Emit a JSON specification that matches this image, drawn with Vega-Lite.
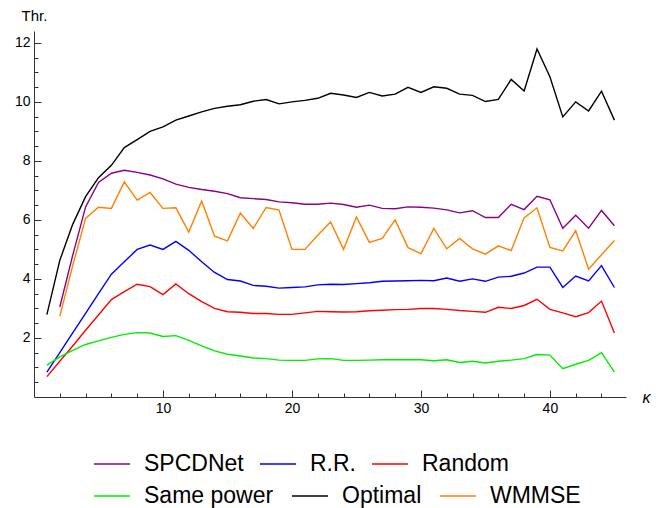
{
  "$schema": "https://vega.github.io/schema/vega-lite/v6.json",
  "width": 592,
  "height": 366,
  "autosize": {"type": "none"},
  "padding": {"left": 34, "top": 31, "right": 36, "bottom": 111},
  "background": "white",
  "config": {
    "view": {"stroke": null},
    "font": "Liberation Sans",
    "axis": {"grid": false, "domainColor": "#333", "tickColor": "#333", "labelColor": "#000", "titleColor": "#000", "labelFont": "Liberation Sans", "titleFont": "Liberation Sans", "labelFontSize": 14, "titleFontSize": 15, "titleFontWeight": "normal", "domainWidth": 1, "tickWidth": 1},
    "legend": {"orient": "none", "direction": "horizontal", "title": null, "symbolType": "stroke", "symbolSize": 1296, "symbolStrokeWidth": 1.3, "labelFontSize": 23, "labelFont": "Liberation Sans", "labelColor": "#000", "labelOffset": 13, "padding": 0, "labelLimit": 300}
  },
  "data": {"values": [
    {"kappa":1,"method":"Optimal","thr":2.79},{"kappa":2,"method":"Optimal","thr":4.63},{"kappa":3,"method":"Optimal","thr":5.85},{"kappa":4,"method":"Optimal","thr":6.79},{"kappa":5,"method":"Optimal","thr":7.43},{"kappa":6,"method":"Optimal","thr":7.85},{"kappa":7,"method":"Optimal","thr":8.45},{"kappa":8,"method":"Optimal","thr":8.72},{"kappa":9,"method":"Optimal","thr":9.0},{"kappa":10,"method":"Optimal","thr":9.15},{"kappa":11,"method":"Optimal","thr":9.38},{"kappa":12,"method":"Optimal","thr":9.52},{"kappa":13,"method":"Optimal","thr":9.66},{"kappa":14,"method":"Optimal","thr":9.78},{"kappa":15,"method":"Optimal","thr":9.85},{"kappa":16,"method":"Optimal","thr":9.9},{"kappa":17,"method":"Optimal","thr":10.02},{"kappa":18,"method":"Optimal","thr":10.08},{"kappa":19,"method":"Optimal","thr":9.93},{"kappa":20,"method":"Optimal","thr":10.0},{"kappa":21,"method":"Optimal","thr":10.05},{"kappa":22,"method":"Optimal","thr":10.12},{"kappa":23,"method":"Optimal","thr":10.29},{"kappa":24,"method":"Optimal","thr":10.23},{"kappa":25,"method":"Optimal","thr":10.15},{"kappa":26,"method":"Optimal","thr":10.32},{"kappa":27,"method":"Optimal","thr":10.2},{"kappa":28,"method":"Optimal","thr":10.26},{"kappa":29,"method":"Optimal","thr":10.49},{"kappa":30,"method":"Optimal","thr":10.32},{"kappa":31,"method":"Optimal","thr":10.51},{"kappa":32,"method":"Optimal","thr":10.46},{"kappa":33,"method":"Optimal","thr":10.26},{"kappa":34,"method":"Optimal","thr":10.22},{"kappa":35,"method":"Optimal","thr":10.01},{"kappa":36,"method":"Optimal","thr":10.08},{"kappa":37,"method":"Optimal","thr":10.76},{"kappa":38,"method":"Optimal","thr":10.37},{"kappa":39,"method":"Optimal","thr":11.79},{"kappa":40,"method":"Optimal","thr":10.85},{"kappa":41,"method":"Optimal","thr":9.49},{"kappa":42,"method":"Optimal","thr":10.0},{"kappa":43,"method":"Optimal","thr":9.69},{"kappa":44,"method":"Optimal","thr":10.36},{"kappa":45,"method":"Optimal","thr":9.38},
    {"kappa":2,"method":"SPCDNet","thr":3.05},{"kappa":3,"method":"SPCDNet","thr":4.8},{"kappa":4,"method":"SPCDNet","thr":6.44},{"kappa":5,"method":"SPCDNet","thr":7.27},{"kappa":6,"method":"SPCDNet","thr":7.58},{"kappa":7,"method":"SPCDNet","thr":7.68},{"kappa":8,"method":"SPCDNet","thr":7.61},{"kappa":9,"method":"SPCDNet","thr":7.52},{"kappa":10,"method":"SPCDNet","thr":7.39},{"kappa":11,"method":"SPCDNet","thr":7.21},{"kappa":12,"method":"SPCDNet","thr":7.1},{"kappa":13,"method":"SPCDNet","thr":7.03},{"kappa":14,"method":"SPCDNet","thr":6.97},{"kappa":15,"method":"SPCDNet","thr":6.89},{"kappa":16,"method":"SPCDNet","thr":6.75},{"kappa":17,"method":"SPCDNet","thr":6.72},{"kappa":18,"method":"SPCDNet","thr":6.69},{"kappa":19,"method":"SPCDNet","thr":6.61},{"kappa":20,"method":"SPCDNet","thr":6.58},{"kappa":21,"method":"SPCDNet","thr":6.53},{"kappa":22,"method":"SPCDNet","thr":6.53},{"kappa":23,"method":"SPCDNet","thr":6.57},{"kappa":24,"method":"SPCDNet","thr":6.52},{"kappa":25,"method":"SPCDNet","thr":6.43},{"kappa":26,"method":"SPCDNet","thr":6.5},{"kappa":27,"method":"SPCDNet","thr":6.39},{"kappa":28,"method":"SPCDNet","thr":6.38},{"kappa":29,"method":"SPCDNet","thr":6.44},{"kappa":30,"method":"SPCDNet","thr":6.43},{"kappa":31,"method":"SPCDNet","thr":6.4},{"kappa":32,"method":"SPCDNet","thr":6.34},{"kappa":33,"method":"SPCDNet","thr":6.24},{"kappa":34,"method":"SPCDNet","thr":6.31},{"kappa":35,"method":"SPCDNet","thr":6.08},{"kappa":36,"method":"SPCDNet","thr":6.08},{"kappa":37,"method":"SPCDNet","thr":6.53},{"kappa":38,"method":"SPCDNet","thr":6.35},{"kappa":39,"method":"SPCDNet","thr":6.8},{"kappa":40,"method":"SPCDNet","thr":6.68},{"kappa":41,"method":"SPCDNet","thr":5.72},{"kappa":42,"method":"SPCDNet","thr":6.16},{"kappa":43,"method":"SPCDNet","thr":5.72},{"kappa":44,"method":"SPCDNet","thr":6.32},{"kappa":45,"method":"SPCDNet","thr":5.8},
    {"kappa":2,"method":"WMMSE","thr":2.73},{"kappa":3,"method":"WMMSE","thr":4.45},{"kappa":4,"method":"WMMSE","thr":6.05},{"kappa":5,"method":"WMMSE","thr":6.43},{"kappa":6,"method":"WMMSE","thr":6.39},{"kappa":7,"method":"WMMSE","thr":7.29},{"kappa":8,"method":"WMMSE","thr":6.67},{"kappa":9,"method":"WMMSE","thr":6.93},{"kappa":10,"method":"WMMSE","thr":6.39},{"kappa":11,"method":"WMMSE","thr":6.41},{"kappa":12,"method":"WMMSE","thr":5.59},{"kappa":13,"method":"WMMSE","thr":6.64},{"kappa":14,"method":"WMMSE","thr":5.45},{"kappa":15,"method":"WMMSE","thr":5.29},{"kappa":16,"method":"WMMSE","thr":6.23},{"kappa":17,"method":"WMMSE","thr":5.71},{"kappa":18,"method":"WMMSE","thr":6.42},{"kappa":19,"method":"WMMSE","thr":6.33},{"kappa":20,"method":"WMMSE","thr":5.0},{"kappa":21,"method":"WMMSE","thr":5.0},{"kappa":22,"method":"WMMSE","thr":5.48},{"kappa":23,"method":"WMMSE","thr":5.93},{"kappa":24,"method":"WMMSE","thr":5.0},{"kappa":25,"method":"WMMSE","thr":6.1},{"kappa":26,"method":"WMMSE","thr":5.24},{"kappa":27,"method":"WMMSE","thr":5.37},{"kappa":28,"method":"WMMSE","thr":6.0},{"kappa":29,"method":"WMMSE","thr":5.06},{"kappa":30,"method":"WMMSE","thr":4.86},{"kappa":31,"method":"WMMSE","thr":5.71},{"kappa":32,"method":"WMMSE","thr":5.02},{"kappa":33,"method":"WMMSE","thr":5.37},{"kappa":34,"method":"WMMSE","thr":5.02},{"kappa":35,"method":"WMMSE","thr":4.84},{"kappa":36,"method":"WMMSE","thr":5.12},{"kappa":37,"method":"WMMSE","thr":4.96},{"kappa":38,"method":"WMMSE","thr":6.07},{"kappa":39,"method":"WMMSE","thr":6.41},{"kappa":40,"method":"WMMSE","thr":5.07},{"kappa":41,"method":"WMMSE","thr":4.95},{"kappa":42,"method":"WMMSE","thr":5.64},{"kappa":43,"method":"WMMSE","thr":4.33},{"kappa":44,"method":"WMMSE","thr":4.82},{"kappa":45,"method":"WMMSE","thr":5.3},
    {"kappa":1,"method":"R.R.","thr":0.84},{"kappa":2,"method":"R.R.","thr":1.5},{"kappa":3,"method":"R.R.","thr":2.17},{"kappa":4,"method":"R.R.","thr":2.83},{"kappa":5,"method":"R.R.","thr":3.5},{"kappa":6,"method":"R.R.","thr":4.16},{"kappa":7,"method":"R.R.","thr":4.58},{"kappa":8,"method":"R.R.","thr":5.0},{"kappa":9,"method":"R.R.","thr":5.15},{"kappa":10,"method":"R.R.","thr":5.0},{"kappa":11,"method":"R.R.","thr":5.27},{"kappa":12,"method":"R.R.","thr":4.97},{"kappa":13,"method":"R.R.","thr":4.58},{"kappa":14,"method":"R.R.","thr":4.22},{"kappa":15,"method":"R.R.","thr":3.98},{"kappa":16,"method":"R.R.","thr":3.93},{"kappa":17,"method":"R.R.","thr":3.78},{"kappa":18,"method":"R.R.","thr":3.75},{"kappa":19,"method":"R.R.","thr":3.69},{"kappa":20,"method":"R.R.","thr":3.71},{"kappa":21,"method":"R.R.","thr":3.73},{"kappa":22,"method":"R.R.","thr":3.8},{"kappa":23,"method":"R.R.","thr":3.82},{"kappa":24,"method":"R.R.","thr":3.81},{"kappa":25,"method":"R.R.","thr":3.84},{"kappa":26,"method":"R.R.","thr":3.87},{"kappa":27,"method":"R.R.","thr":3.92},{"kappa":28,"method":"R.R.","thr":3.93},{"kappa":29,"method":"R.R.","thr":3.94},{"kappa":30,"method":"R.R.","thr":3.95},{"kappa":31,"method":"R.R.","thr":3.94},{"kappa":32,"method":"R.R.","thr":4.03},{"kappa":33,"method":"R.R.","thr":3.92},{"kappa":34,"method":"R.R.","thr":4.0},{"kappa":35,"method":"R.R.","thr":3.92},{"kappa":36,"method":"R.R.","thr":4.06},{"kappa":37,"method":"R.R.","thr":4.09},{"kappa":38,"method":"R.R.","thr":4.2},{"kappa":39,"method":"R.R.","thr":4.4},{"kappa":40,"method":"R.R.","thr":4.4},{"kappa":41,"method":"R.R.","thr":3.71},{"kappa":42,"method":"R.R.","thr":4.1},{"kappa":43,"method":"R.R.","thr":3.93},{"kappa":44,"method":"R.R.","thr":4.45},{"kappa":45,"method":"R.R.","thr":3.71},
    {"kappa":1,"method":"Random","thr":0.69},{"kappa":2,"method":"Random","thr":1.21},{"kappa":3,"method":"Random","thr":1.73},{"kappa":4,"method":"Random","thr":2.26},{"kappa":5,"method":"Random","thr":2.78},{"kappa":6,"method":"Random","thr":3.3},{"kappa":7,"method":"Random","thr":3.57},{"kappa":8,"method":"Random","thr":3.82},{"kappa":9,"method":"Random","thr":3.74},{"kappa":10,"method":"Random","thr":3.47},{"kappa":11,"method":"Random","thr":3.83},{"kappa":12,"method":"Random","thr":3.5},{"kappa":13,"method":"Random","thr":3.23},{"kappa":14,"method":"Random","thr":3.0},{"kappa":15,"method":"Random","thr":2.89},{"kappa":16,"method":"Random","thr":2.87},{"kappa":17,"method":"Random","thr":2.83},{"kappa":18,"method":"Random","thr":2.83},{"kappa":19,"method":"Random","thr":2.8},{"kappa":20,"method":"Random","thr":2.8},{"kappa":21,"method":"Random","thr":2.85},{"kappa":22,"method":"Random","thr":2.9},{"kappa":23,"method":"Random","thr":2.89},{"kappa":24,"method":"Random","thr":2.88},{"kappa":25,"method":"Random","thr":2.89},{"kappa":26,"method":"Random","thr":2.92},{"kappa":27,"method":"Random","thr":2.94},{"kappa":28,"method":"Random","thr":2.96},{"kappa":29,"method":"Random","thr":2.97},{"kappa":30,"method":"Random","thr":3.0},{"kappa":31,"method":"Random","thr":3.0},{"kappa":32,"method":"Random","thr":2.97},{"kappa":33,"method":"Random","thr":2.93},{"kappa":34,"method":"Random","thr":2.9},{"kappa":35,"method":"Random","thr":2.87},{"kappa":36,"method":"Random","thr":3.04},{"kappa":37,"method":"Random","thr":3.0},{"kappa":38,"method":"Random","thr":3.1},{"kappa":39,"method":"Random","thr":3.31},{"kappa":40,"method":"Random","thr":2.97},{"kappa":41,"method":"Random","thr":2.85},{"kappa":42,"method":"Random","thr":2.72},{"kappa":43,"method":"Random","thr":2.86},{"kappa":44,"method":"Random","thr":3.25},{"kappa":45,"method":"Random","thr":2.17},
    {"kappa":1,"method":"Same power","thr":1.08},{"kappa":2,"method":"Same power","thr":1.36},{"kappa":3,"method":"Same power","thr":1.58},{"kappa":4,"method":"Same power","thr":1.78},{"kappa":5,"method":"Same power","thr":1.9},{"kappa":6,"method":"Same power","thr":2.02},{"kappa":7,"method":"Same power","thr":2.12},{"kappa":8,"method":"Same power","thr":2.18},{"kappa":9,"method":"Same power","thr":2.17},{"kappa":10,"method":"Same power","thr":2.05},{"kappa":11,"method":"Same power","thr":2.08},{"kappa":12,"method":"Same power","thr":1.92},{"kappa":13,"method":"Same power","thr":1.73},{"kappa":14,"method":"Same power","thr":1.56},{"kappa":15,"method":"Same power","thr":1.45},{"kappa":16,"method":"Same power","thr":1.39},{"kappa":17,"method":"Same power","thr":1.32},{"kappa":18,"method":"Same power","thr":1.3},{"kappa":19,"method":"Same power","thr":1.25},{"kappa":20,"method":"Same power","thr":1.24},{"kappa":21,"method":"Same power","thr":1.24},{"kappa":22,"method":"Same power","thr":1.29},{"kappa":23,"method":"Same power","thr":1.3},{"kappa":24,"method":"Same power","thr":1.24},{"kappa":25,"method":"Same power","thr":1.24},{"kappa":26,"method":"Same power","thr":1.25},{"kappa":27,"method":"Same power","thr":1.26},{"kappa":28,"method":"Same power","thr":1.26},{"kappa":29,"method":"Same power","thr":1.26},{"kappa":30,"method":"Same power","thr":1.26},{"kappa":31,"method":"Same power","thr":1.23},{"kappa":32,"method":"Same power","thr":1.26},{"kappa":33,"method":"Same power","thr":1.17},{"kappa":34,"method":"Same power","thr":1.21},{"kappa":35,"method":"Same power","thr":1.15},{"kappa":36,"method":"Same power","thr":1.21},{"kappa":37,"method":"Same power","thr":1.25},{"kappa":38,"method":"Same power","thr":1.3},{"kappa":39,"method":"Same power","thr":1.44},{"kappa":40,"method":"Same power","thr":1.42},{"kappa":41,"method":"Same power","thr":0.96},{"kappa":42,"method":"Same power","thr":1.11},{"kappa":43,"method":"Same power","thr":1.24},{"kappa":44,"method":"Same power","thr":1.5},{"kappa":45,"method":"Same power","thr":0.84}
  ]},
  "layer": [
    {
      "transform": [{"filter": {"field": "method", "oneOf": ["SPCDNet", "R.R.", "Random"]}}],
      "mark": {"type": "line", "strokeWidth": 1.4},
      "encoding": {
        "x": {"field": "kappa", "type": "quantitative",
          "scale": {"domain": [0, 45.9], "nice": false, "zero": false},
          "axis": {"orient": "bottom", "values": [10, 20, 30, 40], "tickSize": -7, "labelPadding": 11,
            "title": "κ", "titleFontStyle": "italic", "titleFontSize": 16, "titleX": 612, "titleY": 5, "titleAlign": "center", "titleBaseline": "alphabetic"}},
        "y": {"field": "thr", "type": "quantitative",
          "scale": {"domain": [0, 12.4], "nice": false, "zero": false},
          "axis": {"orient": "left", "values": [2, 4, 6, 8, 10, 12], "tickSize": -7, "labelPadding": 11,
            "title": "Thr.", "titleAngle": 0, "titleX": -13, "titleY": -11, "titleAlign": "left", "titleBaseline": "alphabetic"}},
        "color": {"field": "method", "type": "nominal",
          "scale": {"domain": ["SPCDNet", "R.R.", "Random"], "range": ["#8b008b", "#0000ff", "#ff0000"]},
          "legend": {"legendX": 59, "legendY": 414, "columnPadding": 13}}
      }
    },
    {
      "transform": [{"filter": {"field": "method", "oneOf": ["Same power", "Optimal", "WMMSE"]}}],
      "mark": {"type": "line", "strokeWidth": 1.4},
      "encoding": {
        "x": {"field": "kappa", "type": "quantitative", "axis": null},
        "y": {"field": "thr", "type": "quantitative", "axis": null},
        "stroke": {"field": "method", "type": "nominal",
          "scale": {"domain": ["Same power", "Optimal", "WMMSE"], "range": ["#00ee00", "#000000", "#ff8000"]},
          "legend": {"legendX": 59, "legendY": 446, "columnPadding": 15}}
      }
    },
    {
      "mark": {"type": "line", "strokeOpacity": 0},
      "encoding": {
        "x": {"field": "kappa", "type": "quantitative",
          "axis": {"orient": "bottom", "values": [2,4,6,8,12,14,16,18,22,24,26,28,32,34,36,38,42,44], "tickSize": -4, "labels": false, "domain": false, "title": null}},
        "y": {"field": "thr", "type": "quantitative",
          "axis": {"orient": "left", "values": [0.5,1,1.5,2.5,3,3.5,4.5,5,5.5,6.5,7,7.5,8.5,9,9.5,10.5,11,11.5], "tickSize": -4, "labels": false, "domain": false, "title": null}},
        "detail": {"field": "method", "type": "nominal"}
      }
    }
  ],
  "resolve": {"axis": {"x": "independent", "y": "independent"}}
}
